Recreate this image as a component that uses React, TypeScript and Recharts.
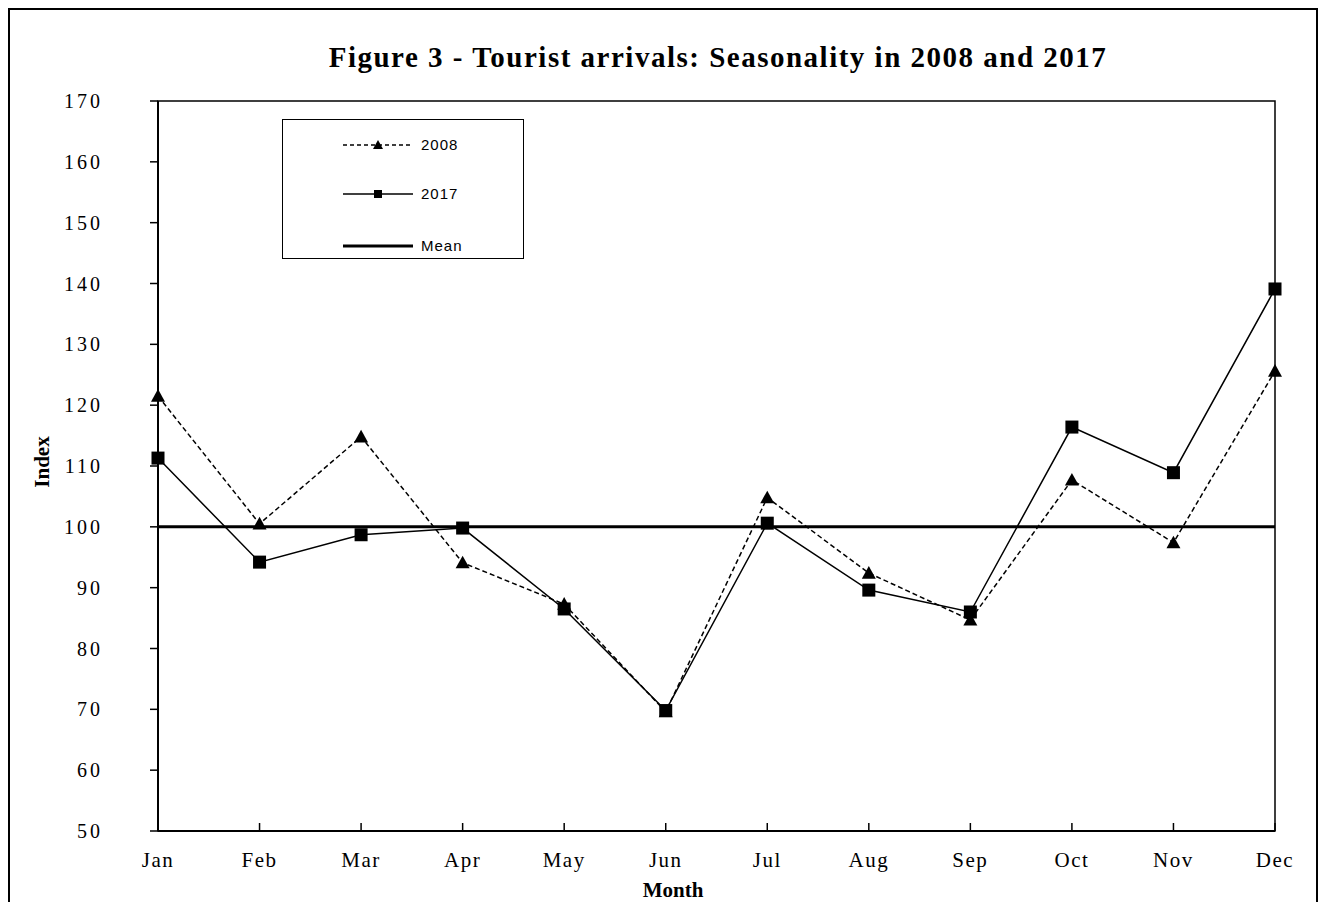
import React from 'react'
import { LineChart, Line, XAxis, YAxis, ReferenceArea } from 'recharts'

const months = ['Jan', 'Feb', 'Mar', 'Apr', 'May', 'Jun', 'Jul', 'Aug', 'Sep', 'Oct', 'Nov', 'Dec']
const index2008 = [121.5, 100.5, 114.8, 94.1, 87.3, 69.6, 104.8, 92.4, 84.7, 107.7, 97.4, 125.6]
const index2017 = [111.3, 94.2, 98.7, 99.8, 86.5, 69.8, 100.6, 89.6, 86.0, 116.4, 108.9, 139.1]
const meanIndex = [100, 100, 100, 100, 100, 100, 100, 100, 100, 100, 100, 100]
const yTicks = [50, 60, 70, 80, 90, 100, 110, 120, 130, 140, 150, 160, 170]

const data = months.map((m, i) => ({
  month: m,
  y2008: index2008[i],
  y2017: index2017[i],
  mean: meanIndex[i],
}))

const serif = '"Liberation Serif", "Times New Roman", serif'
const sans = '"Liberation Sans", Arial, sans-serif'

const Triangle = (props: any) => {
  const { cx, cy, size = 7 } = props
  if (cx == null || cy == null) return null
  return (
    <polygon
      points={`${cx},${cy - size} ${cx - size},${cy + size * 0.8} ${cx + size},${cy + size * 0.8}`}
      fill="#000"
    />
  )
}

const Square = (props: any) => {
  const { cx, cy, size = 6.5 } = props
  if (cx == null || cy == null) return null
  return <rect x={cx - size} y={cy - size} width={size * 2} height={size * 2} fill="#000" />
}

const XTick = (props: any) => {
  const { x, y, payload } = props
  return (
    <g>
      <line x1={x} x2={x} y1={y} y2={y - 8} stroke="#000" strokeWidth={1.5} />
      <text x={x} y={y + 36} textAnchor="middle" fontFamily={serif} fontSize={21} letterSpacing={1.5} fill="#000">
        {payload.value}
      </text>
    </g>
  )
}

const YTick = (props: any) => {
  const { x, y, payload } = props
  return (
    <g>
      <line x1={x - 8} x2={x} y1={y} y2={y} stroke="#000" strokeWidth={1.5} />
      <text x={x - 55} y={y + 7} textAnchor="end" fontFamily={serif} fontSize={20} letterSpacing={3} fill="#000">
        {payload.value}
      </text>
    </g>
  )
}

const LegendBox = () => (
  <div
    style={{
      position: 'absolute',
      left: 272,
      top: 109,
      width: 240,
      height: 138,
      border: '1.5px solid #000',
      background: '#fff',
    }}
  >
    <svg width={240} height={138} style={{ display: 'block' }}>
      <line x1={60} x2={130} y1={25} y2={25} stroke="#000" strokeWidth={1.5} strokeDasharray="4 3" />
      <Triangle cx={95} cy={25} size={5} />
      <text x={138} y={30} fontFamily={sans} fontSize={15} letterSpacing={1} fill="#000">2008</text>
      <line x1={60} x2={130} y1={74} y2={74} stroke="#000" strokeWidth={1.5} />
      <Square cx={95} cy={74} size={4} />
      <text x={138} y={79} fontFamily={sans} fontSize={15} letterSpacing={1} fill="#000">2017</text>
      <line x1={60} x2={130} y1={126} y2={126} stroke="#000" strokeWidth={3} />
      <text x={138} y={131} fontFamily={sans} fontSize={15} letterSpacing={1} fill="#000">Mean</text>
    </svg>
  </div>
)

export default function App() {
  return (
    <div
      style={{
        position: 'relative',
        width: 1306,
        height: 900,
        border: '2px solid #000',
        background: '#fff',
      }}
    >
      <div
        style={{
          position: 'absolute',
          left: 708,
          top: 47,
          transform: 'translate(-50%, -50%)',
          whiteSpace: 'nowrap',
          fontFamily: serif,
          fontWeight: 'bold',
          fontSize: 29,
          letterSpacing: 1.5,
        }}
      >
        Figure 3 - Tourist arrivals: Seasonality in 2008 and 2017
      </div>
      <LineChart width={1306} height={890} data={data} margin={{ top: 91, right: 41, bottom: 19, left: 88 }}>
        <ReferenceArea x1="Jan" x2="Dec" y1={50} y2={170} fill="none" stroke="#000" strokeWidth={1.5} />
        <XAxis
          dataKey="month"
          interval={0}
          height={50}
          tickSize={0}
          tickMargin={0}
          tick={<XTick />}
          axisLine={{ stroke: '#000', strokeWidth: 2 }}
        />
        <YAxis
          type="number"
          domain={[50, 170]}
          ticks={yTicks}
          interval={0}
          width={60}
          tickSize={0}
          tickMargin={0}
          tick={<YTick />}
          axisLine={{ stroke: '#000', strokeWidth: 2 }}
        />
        <Line
          dataKey="mean"
          stroke="#000"
          strokeWidth={3}
          dot={false}
          activeDot={false}
          isAnimationActive={false}
        />
        <Line
          dataKey="y2008"
          stroke="#000"
          strokeWidth={1.5}
          strokeDasharray="5 3"
          dot={<Triangle />}
          activeDot={false}
          isAnimationActive={false}
        />
        <Line
          dataKey="y2017"
          stroke="#000"
          strokeWidth={1.5}
          dot={<Square />}
          activeDot={false}
          isAnimationActive={false}
        />
      </LineChart>
      <LegendBox />
      <div
        style={{
          position: 'absolute',
          left: 32,
          top: 452,
          transform: 'translate(-50%, -50%) rotate(-90deg)',
          whiteSpace: 'nowrap',
          fontFamily: serif,
          fontWeight: 'bold',
          fontSize: 21,
        }}
      >
        Index
      </div>
      <div
        style={{
          position: 'absolute',
          left: 663,
          top: 880,
          transform: 'translate(-50%, -50%)',
          whiteSpace: 'nowrap',
          fontFamily: serif,
          fontWeight: 'bold',
          fontSize: 21,
        }}
      >
        Month
      </div>
    </div>
  )
}
